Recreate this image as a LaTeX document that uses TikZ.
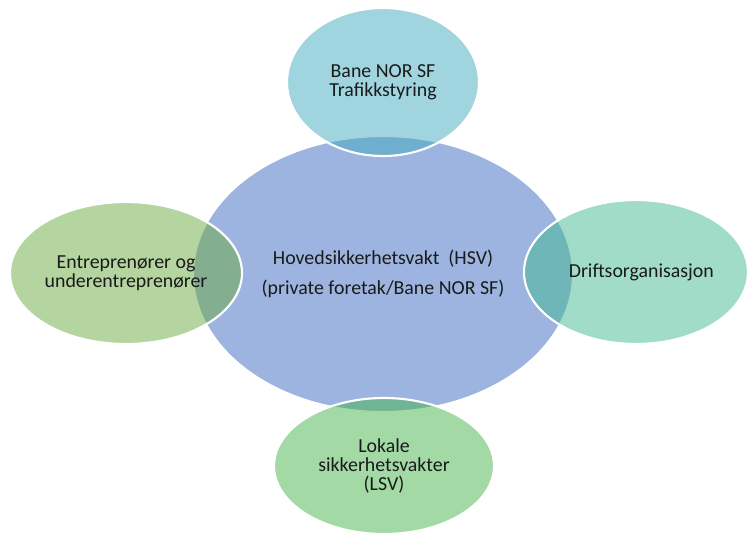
\documentclass[tikz,border=0pt]{standalone}
\usepackage{fontspec}
\setmainfont{Carlito}
\usetikzlibrary{shapes.geometric}

\definecolor{hsvblue}{RGB}{157,180,224}
\definecolor{topcyan}{RGB}{65,171,193}
\definecolor{leftgreen}{RGB}{107,171,65}
\definecolor{rightmint}{RGB}{65,185,145}
\definecolor{lowgreen}{RGB}{69,179,75}
\definecolor{labeltext}{RGB}{26,26,26}

\begin{document}
\begin{tikzpicture}[x=0.75pt,y=-0.75pt,line cap=round,line join=round,
    blob/.style={ellipse,draw=white,line width=1.6pt,inner sep=0pt,
      align=center,text=labeltext,
      font=\fontsize{14.9}{14}\selectfont},
    satellite/.style={blob,fill opacity=0.5,draw opacity=1,text opacity=1}]
  \useasboundingbox (0,0) rectangle (749,533);

  % centre
  \node[blob,fill=hsvblue,minimum width=285pt,minimum height=207pt]
    (hsv) at (383,274)
    {Hovedsikkerhetsvakt\ \ (HSV)\\[8.5pt](private foretak/Bane NOR SF)};

  % satellites
  \node[satellite,fill=topcyan,minimum width=144pt,minimum height=111pt]
    (trafikk) at (383,82) {Bane NOR SF\\Trafikkstyring};
  \node[satellite,fill=leftgreen,minimum width=174pt,minimum height=106.5pt]
    (entrep) at (126,273) {Entreprenører og\\underentreprenører};
  \node[satellite,fill=rightmint,minimum width=168pt,minimum height=108pt]
    (drift) at (636,272) {\hspace*{8pt}Driftsorganisasjon};
  \node[satellite,fill=lowgreen,minimum width=165pt,minimum height=102pt]
    (lsv) at (384,466) {Lokale\\sikkerhetsvakter\\(LSV)};
\end{tikzpicture}
\end{document}
